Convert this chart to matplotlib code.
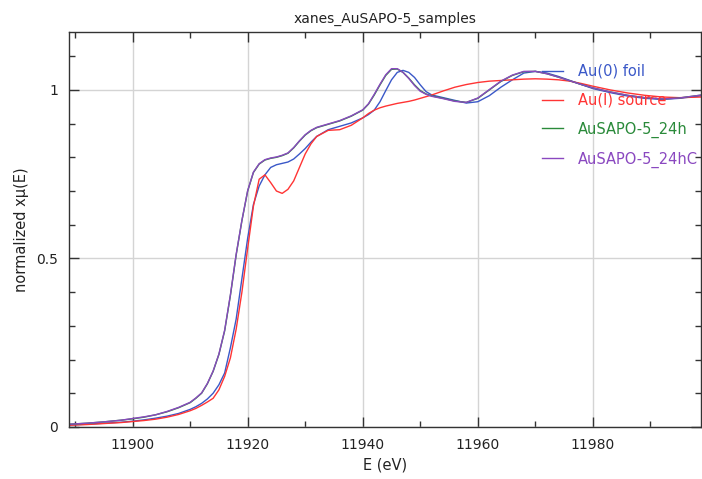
import numpy as np
import matplotlib
matplotlib.use('Agg')
import matplotlib.pyplot as plt
from matplotlib.ticker import MultipleLocator

# energy grid (eV) shared by all spectra
energy = [11889, 11892, 11895, 11898, 11900, 11902, 11904, 11906, 11908, 11910,
          11911, 11912, 11913, 11914, 11915, 11916, 11917, 11918, 11919, 11920,
          11921, 11922, 11923, 11924, 11925, 11926, 11927, 11928, 11929, 11930,
          11931, 11932, 11934, 11936, 11938, 11940, 11941, 11942, 11943, 11944,
          11945, 11946, 11947, 11948, 11949, 11950, 11951, 11952, 11954, 11956,
          11958, 11960, 11962, 11964, 11966, 11968, 11970, 11972, 11974, 11976,
          11978, 11980, 11983, 11986, 11989, 11992, 11995, 11999]

au_foil = [0.006, 0.008, 0.011, 0.014, 0.017, 0.021, 0.026, 0.032, 0.040, 0.052,
           0.060, 0.070, 0.083, 0.100, 0.125, 0.160, 0.235, 0.320, 0.440, 0.560,
           0.660, 0.715, 0.748, 0.770, 0.778, 0.782, 0.786, 0.795, 0.810, 0.826,
           0.845, 0.862, 0.882, 0.892, 0.902, 0.917, 0.927, 0.940, 0.965, 0.998,
           1.030, 1.052, 1.058, 1.052, 1.037, 1.015, 0.995, 0.985, 0.977, 0.969,
           0.961, 0.965, 0.983, 1.008, 1.030, 1.050, 1.055, 1.050, 1.040, 1.028,
           1.016, 1.004, 0.992, 0.982, 0.975, 0.972, 0.975, 0.983]

au_source = [0.005, 0.007, 0.010, 0.013, 0.016, 0.019, 0.023, 0.029, 0.037, 0.048,
             0.055, 0.064, 0.074, 0.085, 0.110, 0.150, 0.205, 0.290, 0.400, 0.530,
             0.655, 0.735, 0.748, 0.725, 0.700, 0.693, 0.705, 0.730, 0.770, 0.810,
             0.840, 0.862, 0.880, 0.882, 0.895, 0.917, 0.930, 0.940, 0.947, 0.952,
             0.956, 0.960, 0.963, 0.966, 0.970, 0.975, 0.980, 0.985, 0.997, 1.008,
             1.016, 1.022, 1.026, 1.028, 1.030, 1.032, 1.033, 1.032, 1.030, 1.026,
             1.019, 1.011, 1.000, 0.991, 0.984, 0.979, 0.977, 0.979]

sapo_24h = [0.008, 0.011, 0.015, 0.020, 0.024, 0.029, 0.036, 0.045, 0.057, 0.072,
            0.085, 0.100, 0.128, 0.165, 0.215, 0.285, 0.390, 0.510, 0.612, 0.700,
            0.755, 0.780, 0.792, 0.797, 0.800, 0.805, 0.812, 0.828, 0.848, 0.866,
            0.879, 0.888, 0.898, 0.908, 0.922, 0.940, 0.958, 0.985, 1.015, 1.043,
            1.061, 1.062, 1.052, 1.035, 1.015, 0.998, 0.988, 0.982, 0.975, 0.967,
            0.963, 0.975, 1.000, 1.025, 1.043, 1.054, 1.055, 1.048, 1.038, 1.027,
            1.016, 1.006, 0.994, 0.984, 0.977, 0.973, 0.976, 0.985]

sapo_24hc = [0.008, 0.011, 0.015, 0.020, 0.025, 0.030, 0.036, 0.046, 0.058, 0.073,
             0.086, 0.101, 0.129, 0.166, 0.216, 0.287, 0.392, 0.512, 0.613, 0.701,
             0.756, 0.781, 0.793, 0.798, 0.801, 0.806, 0.813, 0.829, 0.849, 0.867,
             0.880, 0.889, 0.899, 0.909, 0.923, 0.941, 0.959, 0.987, 1.017, 1.045,
             1.063, 1.063, 1.052, 1.034, 1.013, 0.996, 0.987, 0.981, 0.974, 0.966,
             0.963, 0.976, 1.001, 1.026, 1.044, 1.055, 1.055, 1.048, 1.038, 1.027,
             1.016, 1.006, 0.994, 0.984, 0.977, 0.973, 0.976, 0.985]

labels = ['Au(0) foil', 'Au(I) source', 'AuSAPO-5_24h', 'AuSAPO-5_24hC']
colors = ['#3a58c8', '#ff3434', '#2a8a3a', '#8a48c0']

fig = plt.figure(figsize=(7.02, 4.79), dpi=100)
ax = fig.add_axes([0.0987, 0.108, 0.9000, 0.8246])

for y, lab, c in zip([au_foil, au_source, sapo_24h, sapo_24hc], labels, colors):
    ax.plot(energy, y, color=c, lw=1.0, label=lab)

ax.set_xlim(11889.0, 11998.8)
ax.set_ylim(-0.001, 1.171)
ax.xaxis.set_major_locator(MultipleLocator(20))
ax.xaxis.set_minor_locator(MultipleLocator(10))
ax.yaxis.set_major_locator(MultipleLocator(0.5))
ax.yaxis.set_minor_locator(MultipleLocator(0.1))
ax.set_yticks([0, 0.5, 1])
ax.set_yticklabels(['0', '0.5', '1'])

ax.grid(True, which='major', color='#d4d4d4', lw=1.0)
ax.set_axisbelow(True)
ax.tick_params(which='both', direction='in', top=True, right=True,
               colors='#333333', labelcolor='#222222', labelsize=10)
ax.tick_params(which='major', length=7, width=1)
ax.tick_params(which='minor', length=4, width=1)
ax.tick_params(axis='x', pad=8)
ax.tick_params(axis='y', pad=8)
for s in ax.spines.values():
    s.set_color('#333333')
    s.set_linewidth(1.0)

ax.set_title('xanes_AuSAPO-5_samples', fontsize=10, color='#222222', pad=7)
ax.set_xlabel('E (eV)', fontsize=10.5, color='#222222', labelpad=4)
ax.set_ylabel('normalized xμ(E)', fontsize=10.5, color='#222222', labelpad=5)

leg = ax.legend(loc='upper left', bbox_to_anchor=(0.739, 0.935), frameon=False,
                handlelength=1.45, handletextpad=1.0, labelspacing=0.95,
                fontsize=10.5, labelcolor='linecolor', borderaxespad=0)

fig.savefig('out.png', dpi=100)
